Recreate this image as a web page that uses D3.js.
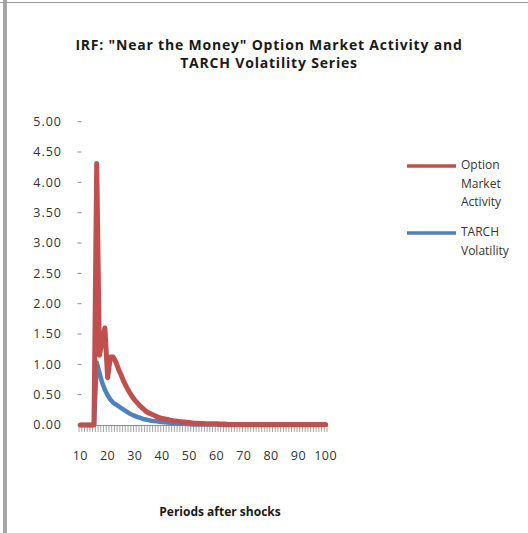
<!DOCTYPE html>
<html>
<head>
<meta charset="utf-8">
<script src="https://cdn.jsdelivr.net/npm/d3@7"></script>
<style>
  html, body { margin: 0; padding: 0; background: #fff; }
  svg { display: block; }
  text { font-family: "Open Sans", "DejaVu Sans", sans-serif; }
</style>
</head>
<body>
<svg id="chart" width="528" height="533"></svg>
<script>
// Periods after the shock (category axis)
const periods = [
  10, 11, 12, 13, 14, 15, 16, 17, 18, 19,
  20, 21, 22, 23, 24, 25, 26, 27, 28, 29,
  30, 31, 32, 33, 34, 35, 36, 37, 38, 39,
  40, 41, 42, 43, 44, 45, 46, 47, 48, 49,
  50, 51, 52, 53, 54, 55, 56, 57, 58, 59,
  60, 61, 62, 63, 64, 65, 66, 67, 68, 69,
  70, 71, 72, 73, 74, 75, 76, 77, 78, 79,
  80, 81, 82, 83, 84, 85, 86, 87, 88, 89,
  90, 91, 92, 93, 94, 95, 96, 97, 98, 99,
  100
];

// Impulse response of "near the money" option market activity
const optionActivity = [
  0, 0, 0, 0, 0, 0, 4.31, 1.15, 1.38, 1.60,
  0.78, 1.12, 1.12, 1.04, 0.92, 0.82, 0.71, 0.62, 0.54, 0.47,
  0.41, 0.36, 0.31, 0.27, 0.23, 0.20, 0.18, 0.16, 0.14, 0.12,
  0.11, 0.10, 0.09, 0.08, 0.07, 0.065, 0.06, 0.055, 0.05, 0.045,
  0.04, 0.035, 0.03, 0.03, 0.025, 0.025, 0.02, 0.02, 0.02, 0.02,
  0.02, 0.015, 0.015, 0.015, 0.01, 0.01, 0.01, 0.01, 0.01, 0.01,
  0.01, 0.01, 0.01, 0.01, 0.01, 0.01, 0.01, 0.01, 0.01, 0.01,
  0.01, 0.01, 0.01, 0.01, 0.01, 0.01, 0.01, 0.01, 0.01, 0.01,
  0.01, 0.01, 0.01, 0.01, 0.01, 0.01, 0.01, 0.01, 0.01, 0.01,
  0.01
];

// Impulse response of the TARCH volatility series
const tarchVolatility = [
  0, 0, 0, 0, 0, 0, 1.03, 0.86, 0.70, 0.58,
  0.49, 0.42, 0.37, 0.34, 0.31, 0.28, 0.25, 0.22, 0.19, 0.17,
  0.15, 0.13, 0.12, 0.10, 0.09, 0.08, 0.07, 0.065, 0.06, 0.055,
  0.05, 0.045, 0.04, 0.035, 0.03, 0.03, 0.025, 0.02, 0.02, 0.015,
  0.015, 0.01, 0.01, 0.01, 0.01, 0.01, 0.01, 0.01, 0.01, 0.01,
  0.01, 0, 0, 0, 0, 0, 0, 0, 0, 0,
  0, 0, 0, 0, 0, 0, 0, 0, 0, 0,
  0, 0, 0, 0, 0, 0, 0, 0, 0, 0,
  0, 0, 0, 0, 0, 0, 0, 0, 0, 0,
  0
];

const yTicks = [0, 0.5, 1, 1.5, 2, 2.5, 3, 3.5, 4, 4.5, 5];
const xLabels = [10, 20, 30, 40, 50, 60, 70, 80, 90, 100];

const titleLines = ['IRF: "Near the Money" Option Market Activity and', 'TARCH Volatility Series'];
const xTitle = "Periods after shocks";
const legendItems = [
  { lines: ["Option", "Market", "Activity"], color: "#C0504D" },
  { lines: ["TARCH", "Volatility"], color: "#4F81BD" }
];

const svg = d3.select("#chart");

// page frame: grey edge on the left and a rule along the top
svg.append("rect").attr("x", 3).attr("y", 0).attr("width", 4).attr("height", 533).attr("fill", "#a6a6a6");
svg.append("line").attr("x1", 0).attr("x2", 528).attr("y1", 2.5).attr("y2", 2.5)
  .attr("stroke", "#9a9a9a").attr("stroke-width", 1.2);

// scales
const x = d3.scaleBand().domain(periods).range([79, 327]).padding(0);
const xc = p => x(p) + x.bandwidth() / 2;
const y = d3.scaleLinear().domain([0, 5]).range([425, 121.7]);

// title, two separate lines
titleLines.forEach((t, i) => {
  svg.append("text").attr("text-anchor", "middle")
    .attr("font-weight", "bold").attr("font-size", 14).attr("letter-spacing", 0.8)
    .attr("fill", "#1a1a1a")
    .attr("x", 269).attr("y", 49.5 + i * 18).text(t);
});

// y axis: labels and short tick dashes, no spine
const yAxis = svg.append("g");
yAxis.selectAll("text").data(yTicks).join("text")
  .attr("x", 62).attr("y", d => y(d)).attr("dy", "0.35em")
  .attr("text-anchor", "end").attr("font-size", 12.5).attr("letter-spacing", 1)
  .attr("fill", "#333")
  .text(d => d.toFixed(2));
yAxis.selectAll("line").data(yTicks).join("line")
  .attr("x1", 77.5).attr("x2", 81.5).attr("y1", d => y(d)).attr("y2", d => y(d))
  .attr("stroke", "#8c8c8c").attr("stroke-width", 1);

// x axis line and category tick marks between categories
const xAxis = svg.append("g");
xAxis.append("line").attr("x1", 79).attr("x2", 327).attr("y1", 425.5).attr("y2", 425.5)
  .attr("stroke", "#8c8c8c").attr("stroke-width", 1);
const boundaries = periods.map(p => x(p)).concat([x(periods[periods.length - 1]) + x.bandwidth()]);
xAxis.selectAll("line.tick").data(boundaries).join("line").attr("class", "tick")
  .attr("x1", d => d).attr("x2", d => d).attr("y1", 426).attr("y2", 432)
  .attr("stroke", "#9a9a9a").attr("stroke-width", 0.9);
xAxis.selectAll("text").data(xLabels).join("text")
  .attr("x", d => xc(d)).attr("y", 456).attr("dy", "0.35em")
  .attr("text-anchor", "middle").attr("font-size", 12.5).attr("letter-spacing", 0.5)
  .attr("fill", "#333")
  .text(d => d);

// x axis title
svg.append("text").attr("x", 220).attr("y", 512).attr("dy", "0.35em")
  .attr("text-anchor", "middle").attr("font-weight", "bold").attr("font-size", 12)
  .attr("fill", "#1a1a1a").text(xTitle);

// series lines (volatility underneath, option activity on top)
const line = d3.line().x((d, i) => xc(periods[i])).y(d => y(d));
svg.append("path").datum(tarchVolatility)
  .attr("d", line).attr("fill", "none").attr("stroke", "#4F81BD")
  .attr("stroke-width", 4.5).attr("stroke-linejoin", "round").attr("stroke-linecap", "round");
svg.append("path").datum(optionActivity)
  .attr("d", line).attr("fill", "none").attr("stroke", "#C0504D")
  .attr("stroke-width", 5).attr("stroke-linejoin", "round").attr("stroke-linecap", "round");

// legend
const legendY = [166, 233];
legendItems.forEach((item, k) => {
  const g = svg.append("g");
  g.append("line").attr("x1", 407).attr("x2", 456).attr("y1", legendY[k]).attr("y2", legendY[k])
    .attr("stroke", item.color).attr("stroke-width", 3.5);
  item.lines.forEach((t, i) => {
    g.append("text").attr("x", 461).attr("y", legendY[k] - 1 + i * 18.5).attr("dy", "0.35em")
      .attr("font-size", 12).attr("fill", "#333").text(t);
  });
});
</script>
</body>
</html>
